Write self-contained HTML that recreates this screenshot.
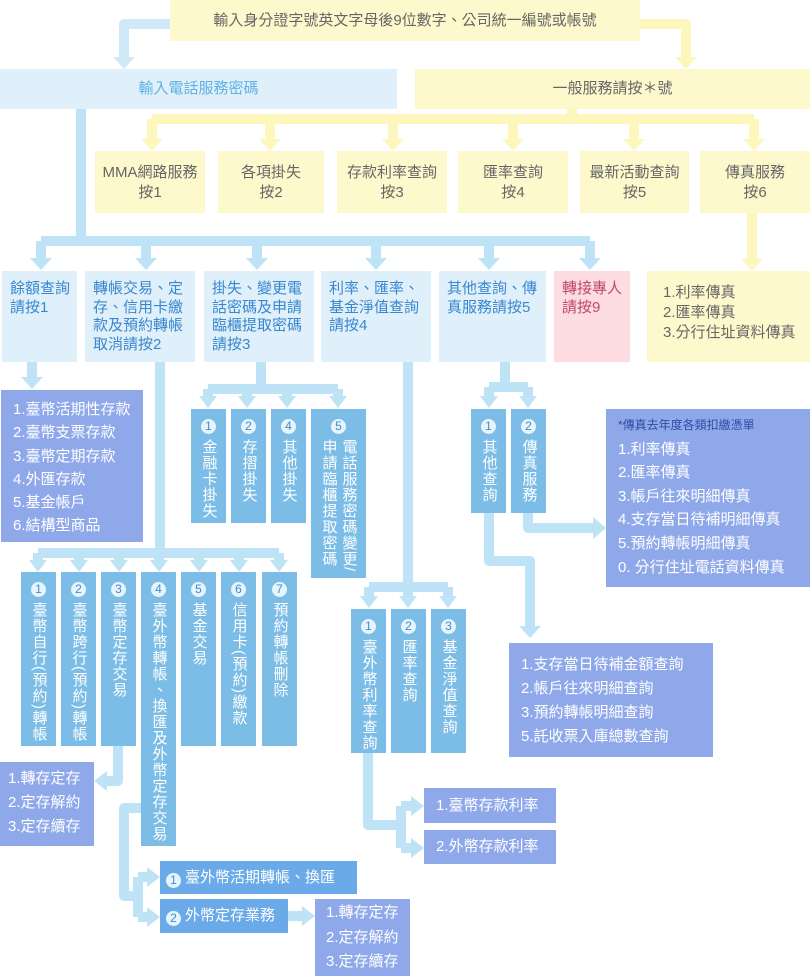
<!DOCTYPE html>
<html><head><meta charset="utf-8">
<style>
*{margin:0;padding:0;box-sizing:border-box}
body{width:810px;height:976px;position:relative;background:#fff;font-family:"Liberation Sans","Noto Sans CJK TC",sans-serif;overflow:hidden}
.b{position:absolute}
.y{background:#fef9cc;color:#666;text-align:center;font-size:15px}
.lb{background:#dff0fa;color:#3a87cf;font-size:15px;line-height:18.5px;padding:9px 0 0 8px}
.pu{background:#8fa8ea;color:#fff;font-size:15px}
.mb{background:#7bbde6;color:#fff}
.c{position:absolute;width:15px;height:15px;border-radius:50%;background:#e8f4fb;color:#3a8ed6;font-size:12px;line-height:15px;text-align:center;left:50%;margin-left:-7.5px;top:10px}
.v{position:absolute;writing-mode:vertical-rl;font-size:15px;letter-spacing:1px;top:30px;left:50%;transform:translateX(-50%);line-height:18px;white-space:nowrap}
</style></head><body>
<svg class="b" style="left:0;top:0" width="810" height="976">
<g fill="none" stroke-width="10" stroke-linejoin="round">
<path stroke="#cfe9f8" d="M172,24H124V58"/>
<path stroke="#fdf6bd" d="M640,24H686V58"/>
<path stroke="#fdf6bd" d="M572,109V119M152,119H754M152,119V140M270,119V140M393,119V140M513,119V140M634,119V140M754,119V140M752,213V260"/>
<path stroke="#bfe3f6" d="M81,109V241M41,241H590M41,241V259M146,241V259M257,241V259M376,241V259M489,241V259M590,241V259"/>
<path stroke="#bfe3f6" d="M32,362V378M160,362V553M38,553H279M38,553V561M79,553V561M119,553V561M159,553V561M199,553V561M239,553V561M279,553V561"/>
<path stroke="#bfe3f6" d="M261,362V389M208,389H338M208,389V397M247,389V397M287,389V397M338,389V397"/>
<path stroke="#bfe3f6" d="M408,362V587M369,587H448M369,587V597M408,587V597M448,587V597"/>
<path stroke="#bfe3f6" d="M505,362V387M489,387H528M489,387V397M528,387V397"/>
<path stroke="#bfe3f6" d="M489,513V561H530V627M528,513V528H594"/>
<path stroke="#bfe3f6" d="M368,753V825H401M401,806V848M401,806H412M401,848H412"/>
<path stroke="#bfe3f6" d="M118,746V781H106M141,808H124V896H138M138,877V917M138,877H148M138,917H148M288,916H303"/>
</g>
<g fill="#cfe9f8"><polygon points="113,57 135,57 124,69"/></g>
<g fill="#fdf6bd">
<polygon points="675,57 697,57 686,69"/>
<polygon points="141,139 163,139 152,151"/><polygon points="259,139 281,139 270,151"/><polygon points="382,139 404,139 393,151"/><polygon points="502,139 524,139 513,151"/><polygon points="623,139 645,139 634,151"/><polygon points="743,139 765,139 754,151"/><polygon points="741,259 763,259 752,271"/>
</g>
<g fill="#bfe3f6">
<polygon points="30,258 52,258 41,270"/><polygon points="135,258 157,258 146,270"/><polygon points="246,258 268,258 257,270"/><polygon points="365,258 387,258 376,270"/><polygon points="478,258 500,258 489,270"/><polygon points="579,258 601,258 590,270"/>
<polygon points="21,377 43,377 32,389"/>
<polygon points="29,560 47,560 38,572"/><polygon points="70,560 88,560 79,572"/><polygon points="110,560 128,560 119,572"/><polygon points="150,560 168,560 159,572"/><polygon points="190,560 208,560 199,572"/><polygon points="230,560 248,560 239,572"/><polygon points="270,560 288,560 279,572"/>
<polygon points="199,396 217,396 208,408"/><polygon points="238,396 256,396 247,408"/><polygon points="278,396 296,396 287,408"/><polygon points="329,396 347,396 338,408"/>
<polygon points="360,596 378,596 369,608"/><polygon points="399,596 417,596 408,608"/><polygon points="439,596 457,596 448,608"/>
<polygon points="480,396 498,396 489,408"/><polygon points="519,396 537,396 528,408"/>
<polygon points="519,626 541,626 530,638"/>
<polygon points="593,517 593,539 606,528"/>
<polygon points="411,796 411,816 424,806"/><polygon points="411,838 411,858 424,848"/>
<polygon points="107,771 107,791 94,781"/>
<polygon points="147,867 147,887 160,877"/><polygon points="147,907 147,927 160,917"/>
<polygon points="302,906 302,926 315,916"/>
</g>
</svg>

<div class="b y" style="left:170px;top:0;width:470px;height:41px;line-height:41px">輸入身分證字號英文字母後9位數字、公司統一編號或帳號</div>
<div class="b" style="left:0;top:69px;width:397px;height:40px;line-height:40px;background:#dff0fa;color:#5fb2e4;text-align:center;font-size:15px">輸入電話服務密碼</div>
<div class="b y" style="left:415px;top:69px;width:395px;height:40px;line-height:40px">一般服務請按＊號</div>

<div class="b y" style="left:95px;top:151px;width:110px;height:62px;line-height:20px;padding-top:12px">MMA網路服務<br>按1</div>
<div class="b y" style="left:218px;top:151px;width:106px;height:62px;line-height:20px;padding-top:12px">各項掛失<br>按2</div>
<div class="b y" style="left:337px;top:151px;width:110px;height:62px;line-height:20px;padding-top:12px">存款利率查詢<br>按3</div>
<div class="b y" style="left:458px;top:151px;width:110px;height:62px;line-height:20px;padding-top:12px">匯率查詢<br>按4</div>
<div class="b y" style="left:580px;top:151px;width:109px;height:62px;line-height:20px;padding-top:12px">最新活動查詢<br>按5</div>
<div class="b y" style="left:700px;top:151px;width:110px;height:62px;line-height:20px;padding-top:12px">傳真服務<br>按6</div>

<div class="b y" style="left:647px;top:271px;width:163px;height:91px;text-align:left;line-height:20px;padding:12px 0 0 16px">1.利率傳真<br>2.匯率傳真<br>3.分行住址資料傳真</div>

<div class="b lb" style="left:2px;top:271px;width:75px;height:91px">餘額查詢<br>請按1</div>
<div class="b lb" style="left:85px;top:271px;width:110px;height:91px">轉帳交易、定<br>存、信用卡繳<br>款及預約轉帳<br>取消請按2</div>
<div class="b lb" style="left:204px;top:271px;width:110px;height:91px">掛失、變更電<br>話密碼及申請<br>臨櫃提取密碼<br>請按3</div>
<div class="b lb" style="left:321px;top:271px;width:110px;height:91px">利率、匯率、<br>基金淨值查詢<br>請按4</div>
<div class="b lb" style="left:439px;top:271px;width:107px;height:91px">其他查詢、傳<br>真服務請按5</div>
<div class="b lb" style="left:554px;top:271px;width:76px;height:91px;background:#fddde1;color:#c04a6a">轉接專人<br>請按9</div>

<div class="b pu" style="left:1px;top:390px;width:142px;height:152px;line-height:23.3px;padding:8px 0 0 12px">1.臺幣活期性存款<br>2.臺幣支票存款<br>3.臺幣定期存款<br>4.外匯存款<br>5.基金帳戶<br>6.結構型商品</div>

<div class="b mb" style="left:191px;top:409px;width:35px;height:114px"><div class="c">1</div><div class="v">金融卡掛失</div></div>
<div class="b mb" style="left:231px;top:409px;width:35px;height:114px"><div class="c">2</div><div class="v">存摺掛失</div></div>
<div class="b mb" style="left:271px;top:409px;width:35px;height:114px"><div class="c">4</div><div class="v">其他掛失</div></div>
<div class="b mb" style="left:311px;top:409px;width:55px;height:169px"><div class="c">5</div><div class="v" style="line-height:20px">電話服務密碼變更/<br>申請臨櫃提取密碼</div></div>

<div class="b mb" style="left:21px;top:572px;width:35px;height:174px"><div class="c">1</div><div class="v">臺幣自行(預約)轉帳</div></div>
<div class="b mb" style="left:61px;top:572px;width:35px;height:174px"><div class="c">2</div><div class="v">臺幣跨行(預約)轉帳</div></div>
<div class="b mb" style="left:101px;top:572px;width:35px;height:174px"><div class="c">3</div><div class="v">臺幣定存交易</div></div>
<div class="b mb" style="left:141px;top:572px;width:35px;height:274px"><div class="c">4</div><div class="v">臺外幣轉帳、換匯及外幣定存交易</div></div>
<div class="b mb" style="left:181px;top:572px;width:35px;height:174px"><div class="c">5</div><div class="v">基金交易</div></div>
<div class="b mb" style="left:221px;top:572px;width:35px;height:174px"><div class="c">6</div><div class="v">信用卡(預約)繳款</div></div>
<div class="b mb" style="left:262px;top:572px;width:35px;height:174px"><div class="c">7</div><div class="v">預約轉帳刪除</div></div>

<div class="b pu" style="left:0;top:762px;width:94px;height:84px;line-height:24px;padding:5px 0 0 8px">1.轉存定存<br>2.定存解約<br>3.定存續存</div>

<div class="b" style="left:160px;top:861px;width:197px;height:33px;background:#6aaae8;color:#fff;font-size:15px;line-height:33px;padding-left:6px"><span style="display:inline-block;width:15px;height:15px;border-radius:50%;background:#e8f4fb;color:#3a8ed6;font-size:12px;line-height:15px;text-align:center;vertical-align:-2px;margin-right:4px">1</span>臺外幣活期轉帳、換匯</div>
<div class="b" style="left:160px;top:899px;width:128px;height:34px;background:#6aaae8;color:#fff;font-size:15px;line-height:34px;padding-left:6px"><span style="display:inline-block;width:15px;height:15px;border-radius:50%;background:#e8f4fb;color:#3a8ed6;font-size:12px;line-height:15px;text-align:center;vertical-align:-2px;margin-right:4px">2</span>外幣定存業務</div>
<div class="b pu" style="left:315px;top:899px;width:95px;height:77px;line-height:24.5px;padding:2px 0 0 11px">1.轉存定存<br>2.定存解約<br>3.定存續存</div>

<div class="b mb" style="left:351px;top:609px;width:35px;height:144px"><div class="c">1</div><div class="v">臺外幣利率查詢</div></div>
<div class="b mb" style="left:391px;top:609px;width:35px;height:144px"><div class="c">2</div><div class="v">匯率查詢</div></div>
<div class="b mb" style="left:431px;top:609px;width:35px;height:144px"><div class="c">3</div><div class="v">基金淨值查詢</div></div>
<div class="b pu" style="left:424px;top:788px;width:132px;height:35px;line-height:35px;padding-left:12px">1.臺幣存款利率</div>
<div class="b pu" style="left:424px;top:830px;width:132px;height:34px;line-height:34px;padding-left:12px">2.外幣存款利率</div>

<div class="b mb" style="left:471px;top:409px;width:35px;height:104px"><div class="c">1</div><div class="v">其他查詢</div></div>
<div class="b mb" style="left:511px;top:409px;width:35px;height:104px"><div class="c">2</div><div class="v">傳真服務</div></div>
<div class="b pu" style="left:606px;top:409px;width:204px;height:178px;line-height:23.6px;padding:4px 0 0 12px"><span style="color:#2f4fa0;font-size:12px">*傳真去年度各類扣繳憑單</span><br>1.利率傳真<br>2.匯率傳真<br>3.帳戶往來明細傳真<br>4.支存當日待補明細傳真<br>5.預約轉帳明細傳真<br>0. 分行住址電話資料傳真</div>
<div class="b pu" style="left:509px;top:643px;width:204px;height:114px;line-height:24px;padding:10px 0 0 12px">1.支存當日待補金額查詢<br>2.帳戶往來明細查詢<br>3.預約轉帳明細查詢<br>5.託收票入庫總數查詢</div>
</body></html>
